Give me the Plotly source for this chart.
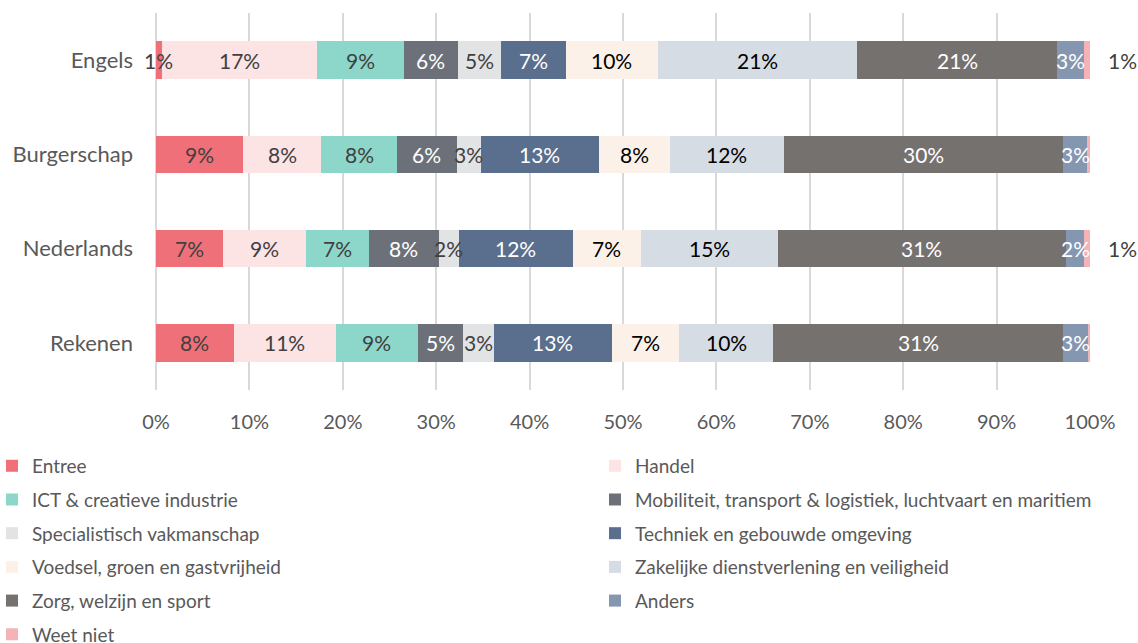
"""Stacked bar chart: sector choice per subject."""

import plotly.graph_objects as go

categories = ['Engels', 'Burgerschap', 'Nederlands', 'Rekenen']

series_names = [
    'Entree',
    'Handel',
    'ICT & creatieve industrie',
    'Mobiliteit, transport & logistiek, luchtvaart en maritiem',
    'Specialistisch vakmanschap',
    'Techniek en gebouwde omgeving',
    'Voedsel, groen en gastvrijheid',
    'Zakelijke dienstverlening en veiligheid',
    'Zorg, welzijn en sport',
    'Anders',
    'Weet niet',
]

# percentages per category (Engels, Burgerschap, Nederlands, Rekenen)
entree = [0.6, 9.3, 7.2, 8.3]
handel = [16.6, 8.4, 8.9, 11.0]
ict = [9.3, 8.1, 6.7, 8.7]
mobiliteit = [5.8, 6.4, 7.5, 4.9]
specialistisch = [4.6, 2.6, 2.1, 3.3]
techniek = [7.0, 12.6, 12.2, 12.6]
voedsel = [9.8, 7.6, 7.3, 7.2]
zakelijk = [21.4, 12.2, 14.7, 10.1]
zorg = [21.4, 29.9, 30.8, 31.0]
anders = [2.9, 2.6, 2.0, 2.7]
weet_niet = [0.6, 0.3, 0.6, 0.2]
weet_niet_labels = ['1%', '', '1%', '']

values = [entree, handel, ict, mobiliteit, specialistisch, techniek,
          voedsel, zakelijk, zorg, anders, weet_niet]

colors = ['#EF7078', '#FCE3E4', '#8CD6CA', '#6B7079', '#E2E3E5', '#5A6E8D',
          '#FBF1E8', '#D6DCE4', '#75716F', '#8597B0', '#F3B3B7']
text_colors = ['#404040', '#404040', '#404040', '#FFFFFF', '#404040', '#FFFFFF',
               '#000000', '#000000', '#FFFFFF', '#FFFFFF', '#404040']

# left legend column gets even-indexed series, right column the odd ones
legend_of = ['legend' if i % 2 == 0 else 'legend2' for i in range(len(series_names))]

FONT = 'Lato, Liberation Sans, sans-serif'

fig = go.Figure()

for i, name in enumerate(series_names):
    fig.add_trace(go.Bar(
        y=categories,
        x=values[i],
        name=name,
        orientation='h',
        marker=dict(color=colors[i], line=dict(width=0)),
        legend=legend_of[i],
        legendgroup=name,
        hovertemplate='%{y}<br>' + name + ': %{x:.1f}%<extra></extra>'
    ))

# Data labels drawn on top of all bars (like the original)
annotations = []
cumulative = [0.0] * len(categories)
for i, name in enumerate(series_names):
    for j, cat in enumerate(categories):
        v = values[i][j]
        if name == 'Weet niet':
            if weet_niet_labels[j]:
                annotations.append(dict(
                    x=cumulative[j] + v, y=cat, xref='x', yref='y',
                    text=weet_niet_labels[j], showarrow=False,
                    xanchor='left', xshift=16,
                    font=dict(family=FONT, size=21, color='#404040')
                ))
        else:
            annotations.append(dict(
                x=cumulative[j] + v / 2, y=cat, xref='x', yref='y',
                text=f"{v:.0f}%", showarrow=False,
                font=dict(family=FONT, size=21, color=text_colors[i])
            ))
        cumulative[j] += v

legend_common = dict(
    orientation='v',
    yanchor='top',
    y=-0.151,
    xanchor='left',
    font=dict(family=FONT, size=19, color='#595959'),
    tracegroupgap=6,
    itemwidth=30,
    traceorder='grouped',
    bgcolor='rgba(0,0,0,0)',
)

fig.update_layout(
    barmode='stack',
    bargap=0.6,
    template='plotly_white',
    width=1138,
    height=643,
    paper_bgcolor='white',
    plot_bgcolor='white',
    font=dict(family=FONT, color='#595959'),
    margin=dict(l=156, r=48, t=13, b=253, autoexpand=False),
    annotations=annotations,
    legend=dict(legend_common, x=-0.1756),
    legend2=dict(legend_common, x=0.47),
    xaxis=dict(
        range=[0, 100],
        dtick=10,
        ticksuffix='%',
        showgrid=True,
        gridcolor='#D9D9D9',
        gridwidth=2,
        zeroline=True,
        zerolinecolor='#D9D9D9',
        zerolinewidth=2,
        showline=False,
        tickfont=dict(family=FONT, size=20, color='#595959'),
        ticklabelstandoff=18,
        fixedrange=True,
    ),
    yaxis=dict(
        categoryorder='array',
        categoryarray=categories,
        autorange='reversed',
        showgrid=False,
        tickfont=dict(family=FONT, size=22, color='#595959'),
        ticklabelstandoff=22,
        fixedrange=True,
    ),
)

# drop the default page margin so the figure sits at the window's top-left
fig.write_html(
    "out.html",
    config={'displayModeBar': False},
    post_script="document.body.style.margin = '0';",
)
